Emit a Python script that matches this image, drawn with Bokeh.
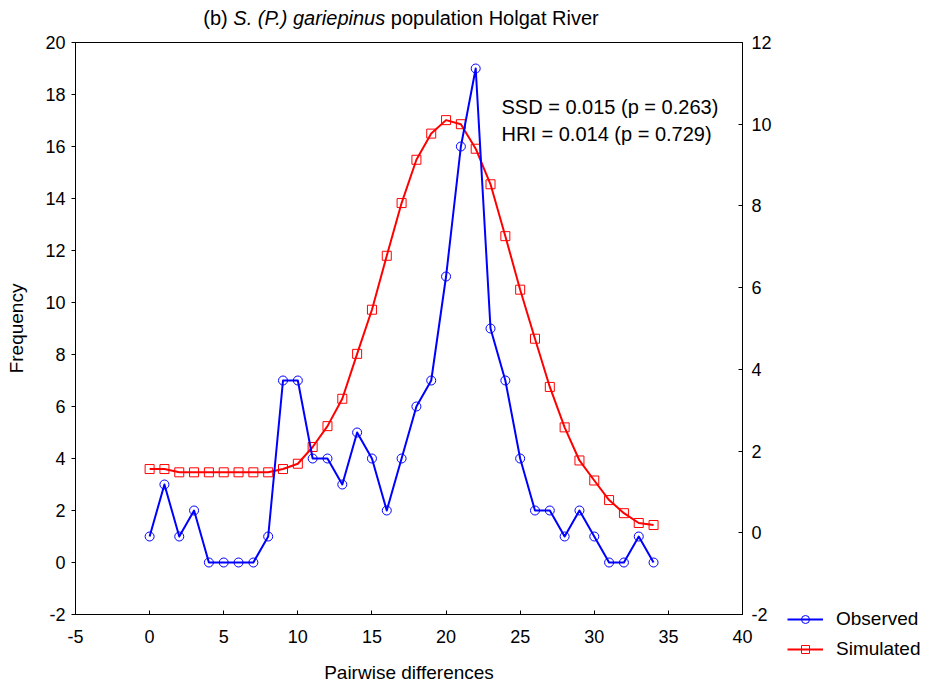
from bokeh.plotting import figure
from bokeh.models import Range1d, LinearAxis, Label, Legend, LegendItem, FixedTicker, Div, Spacer
from bokeh.layouts import column, row
from bokeh.embed import file_html
from bokeh.resources import INLINE

# ---- data ----
diffs = list(range(35))
observed = [1, 3, 1, 2, 0, 0, 0, 0, 1, 7, 7, 4, 4, 3, 5, 4, 2, 4, 6, 7,
            11, 16, 19, 9, 7, 4, 2, 2, 1, 2, 1, 0, 0, 1, 0]
simulated = [1.56, 1.56, 1.48, 1.48, 1.48, 1.48, 1.48, 1.48, 1.48, 1.56,
             1.69, 2.10, 2.61, 3.28, 4.38, 5.46, 6.78, 8.07, 9.13, 9.77,
             10.10, 10.00, 9.40, 8.53, 7.26, 5.95, 4.75, 3.57, 2.58, 1.77,
             1.28, 0.80, 0.48, 0.24, 0.19]
x_ticks = [-5, 0, 5, 10, 15, 20, 25, 30, 35, 40]
left_ticks = [-2, 0, 2, 4, 6, 8, 10, 12, 14, 16, 18, 20]
right_ticks = [-2, 0, 2, 4, 6, 8, 10, 12]
series_names = ["Observed", "Simulated"]

FONT = "Liberation Sans"
BLUE = "#0000FF"
RED = "#FF0000"

title = Div(
    text=('<div style="padding-top:8px; padding-left:20px; line-height:20px;'
          ' font-family:\'Liberation Sans\'; font-size:20px; color:black;'
          ' text-align:center; white-space:nowrap;">'
          '(b) <i>S. (P.) gariepinus</i> population Holgat River</div>'),
    width=782, height=34, margin=(0, 0, 0, 0),
    styles={"font-family": FONT, "font-size": "20px", "color": "black",
            "text-align": "center"})

p = figure(frame_width=667, frame_height=572,
           min_border_left=75, min_border_right=40,
           min_border_top=8, min_border_bottom=74,
           x_range=Range1d(-5, 40), y_range=Range1d(-2, 20),
           output_backend="svg", toolbar_location=None, margin=(0, 0, 0, 0))
p.extra_y_ranges = {"sim": Range1d(-2, 12)}
p.xgrid.visible = False
p.ygrid.visible = False
p.outline_line_color = "black"
p.outline_line_width = 1
p.background_fill_color = "white"
p.border_fill_color = "white"

right_axis = LinearAxis(y_range_name="sim")
p.add_layout(right_axis, "right")

def style(ax):
    ax.axis_line_color = "black"
    ax.axis_line_width = 1
    ax.major_tick_line_color = "black"
    ax.minor_tick_line_color = None
    ax.major_label_text_font = FONT
    ax.major_label_text_font_size = "18px"
    ax.major_label_text_color = "black"
    ax.axis_label_text_font = FONT
    ax.axis_label_text_font_size = "19px"
    ax.axis_label_text_font_style = "normal"
    ax.axis_label_text_color = "black"

xa = p.xaxis[0]
style(xa)
xa.ticker = FixedTicker(ticks=x_ticks)
xa.major_label_overrides = {t: str(t) for t in x_ticks}
xa.major_tick_in = 4
xa.major_tick_out = 0
xa.major_label_standoff = 15
xa.axis_label = "Pairwise differences"
xa.axis_label_standoff = 16

ya = p.yaxis[0]
style(ya)
ya.ticker = FixedTicker(ticks=left_ticks)
ya.major_label_overrides = {t: str(t) for t in left_ticks}
ya.major_tick_in = 0
ya.major_tick_out = 4
ya.major_label_standoff = 6
ya.axis_label = "Frequency"
ya.axis_label_standoff = 15

style(right_axis)
right_axis.ticker = FixedTicker(ticks=right_ticks)
right_axis.major_label_overrides = {t: str(t) for t in right_ticks}
right_axis.major_tick_in = 4
right_axis.major_tick_out = 0
right_axis.major_label_standoff = 9

# ---- series ----
p.line(diffs, simulated, y_range_name="sim", line_color=RED, line_width=2,
       line_join="round")
p.scatter(diffs, simulated, y_range_name="sim", marker="square", size=9,
          fill_color=None, line_color=RED, line_width=1)
p.line(diffs, observed, line_color=BLUE, line_width=2, line_join="round")
p.scatter(diffs, observed, marker="circle", size=9,
          fill_color=None, line_color=BLUE, line_width=1)

# ---- statistics ----
p.add_layout(Label(x=23.74, y=17.53, text="SSD = 0.015 (p = 0.263)",
                   text_font=FONT, text_font_size="20px", text_color="black",
                   text_align="left", text_baseline="alphabetic"))
p.add_layout(Label(x=23.74, y=16.49, text="HRI = 0.014 (p = 0.729)",
                   text_font=FONT, text_font_size="20px", text_color="black",
                   text_align="left", text_baseline="alphabetic"))

# ---- legend (separate small figure at the bottom right, outside the frame);
#      its series are the same data, kept out of that figure's visible range ----
lg = figure(frame_width=145, frame_height=60, min_border=0,
            x_range=Range1d(100, 101), y_range=Range1d(100, 101),
            output_backend="svg", toolbar_location=None, margin=(0, 0, 0, 0))
lg.axis.visible = False
lg.grid.visible = False
lg.outline_line_color = None
lg.border_fill_color = "white"
lg.background_fill_color = "white"
obs_l = lg.line(diffs, observed, line_color=BLUE, line_width=2)
obs_s = lg.scatter(diffs, observed, marker="circle", size=9, fill_color=None,
                   line_color=BLUE, line_width=1)
sim_l = lg.line(diffs, simulated, line_color=RED, line_width=2)
sim_s = lg.scatter(diffs, simulated, marker="square", size=9, fill_color=None,
                   line_color=RED, line_width=1)
legend = Legend(items=[LegendItem(label=series_names[0], renderers=[obs_l, obs_s]),
                       LegendItem(label=series_names[1], renderers=[sim_l, sim_s])],
                location=(5, 8), orientation="vertical",
                glyph_width=36, glyph_height=20, label_height=20,
                label_standoff=13, spacing=8, padding=0, margin=0,
                border_line_color=None, background_fill_alpha=0,
                label_text_font=FONT, label_text_font_size="19px",
                label_text_color="black")
lg.add_layout(legend)

left_col = column(title, p, spacing=0, margin=(0, 0, 0, 0))
right_col = column(Spacer(width=145, height=608, margin=(0, 0, 0, 0)), lg,
                   spacing=0, margin=(0, 0, 0, 0))
layout = row(left_col, right_col, spacing=0, margin=(0, 0, 0, 0))
open("out.html", "w").write(file_html(layout, INLINE))
